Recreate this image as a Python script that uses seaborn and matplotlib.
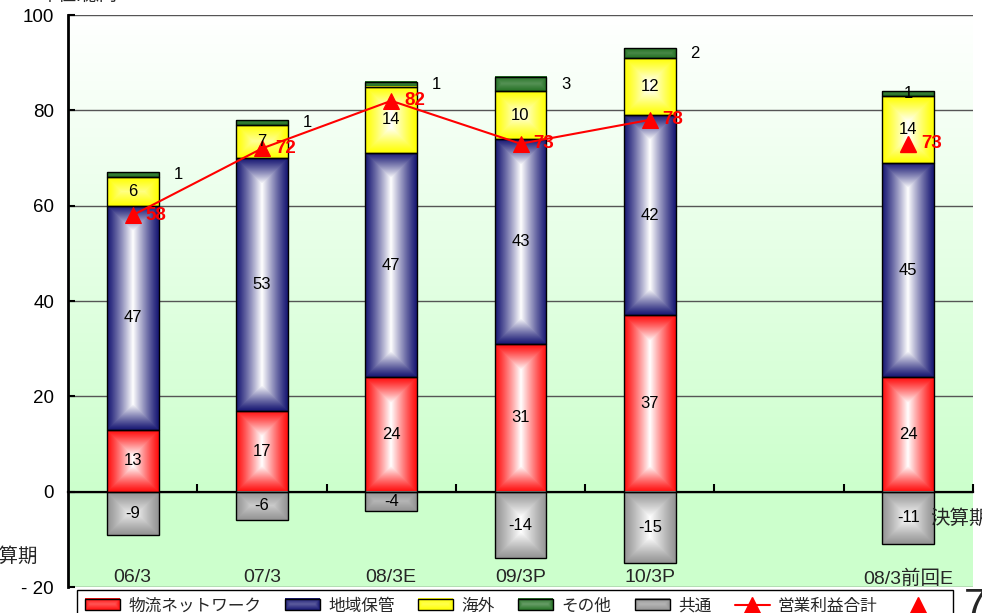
import numpy as np
import matplotlib
matplotlib.use("Agg")
import matplotlib.pyplot as plt
import seaborn as sns
from matplotlib.patches import Patch, Rectangle
from matplotlib.lines import Line2D
from matplotlib.legend_handler import HandlerBase
from matplotlib.image import BboxImage
from matplotlib.transforms import Bbox, TransformedBbox

# ---- data (億円) ----
periods = ["06/3", "07/3", "08/3E", "09/3P", "10/3P", "", "08/3前回E"]
logistics = [13, 17, 24, 31, 37, np.nan, 24]      # 物流ネットワーク
regional = [47, 53, 47, 43, 42, np.nan, 45]       # 地域保管
overseas = [6, 7, 14, 10, 12, np.nan, 14]         # 海外
others = [1, 1, 1, 3, 2, np.nan, 1]               # その他
common = [-9, -6, -4, -14, -15, np.nan, -11]      # 共通
totals = [58, 72, 82, 73, 78, np.nan, 73]         # 営業利益合計
series_names = ["物流ネットワーク", "地域保管", "海外", "その他", "共通", "営業利益合計"]
y_ticks = [-20, 0, 20, 40, 60, 80, 100]
y_tick_labels = ["- 20", "0", "20", "40", "60", "80", "100"]

sns.set_theme(style="white")
FONT = ["Liberation Sans", "Noto Sans CJK JP", "DejaVu Sans"]
plt.rcParams["font.family"] = FONT
plt.rcParams["axes.unicode_minus"] = False

edge_colors = {
    "物流ネットワーク": (1.0, 0.05, 0.05),
    "地域保管": (0.09, 0.09, 0.45),
    "海外": (1.0, 1.0, 0.0),
    "その他": (0.15, 0.45, 0.15),
    "共通": (0.58, 0.58, 0.58),
}


def box_gradient(color, wpx, hpx, power=1.15):
    """Rectangular 'from centre' gradient: colour at the edges, white inside."""
    nx = max(int(round(wpx)), 2)
    ny = max(int(round(hpx)), 2)
    xs = np.arange(nx) + 0.5
    ys = np.arange(ny) + 0.5
    dx = np.minimum(xs, nx - xs)[None, :]
    dy = np.minimum(ys, ny - ys)[:, None]
    d = np.minimum(dx, dy)
    t = np.clip(d / (nx / 2.0), 0, 1) ** power
    c = np.array(color)
    return c[None, None, :] * (1 - t[..., None]) + t[..., None]


fig = plt.figure(figsize=(9.82, 6.13), dpi=100)
fig.patch.set_facecolor("white")
ax = fig.add_axes([68 / 982, 1 - 587 / 613, (973 - 68) / 982, (587 - 15) / 613])

pos = np.arange(len(periods))
xlim = (-0.5, len(periods) - 0.5)
ax.set_facecolor("#ccffcc")

# plot-area gradient above the zero line
grad = np.linspace(0, 1, 256)[:, None]
top_c = np.array([1.0, 1.0, 1.0])
bot_c = np.array([0.80, 1.0, 0.80])
bg = top_c[None, None, :] * (1 - grad[..., None]) + bot_c[None, None, :] * grad[..., None]
bg = np.repeat(bg, 2, axis=1)
ax.imshow(bg, extent=(xlim[0], xlim[1], 0, 100), aspect="auto", origin="upper",
          zorder=0, interpolation="bilinear")
ax.set_xlim(*xlim)
ax.set_ylim(-20, 100)

# stacked bars
width = 0.4
layers = [("物流ネットワーク", logistics), ("地域保管", regional),
          ("海外", overseas), ("その他", others)]
valid = ~np.isnan(np.array(totals, dtype=float))
bottom = np.zeros(len(periods))
bar_groups = []
for name, vals in layers:
    v = np.array(vals, dtype=float)
    bars = ax.bar(pos[valid], v[valid], width=width, bottom=bottom[valid],
                  facecolor="none", edgecolor="black", linewidth=1, zorder=4)
    bar_groups.append((name, bars, v, bottom.copy()))
    bottom = bottom + np.nan_to_num(v)
cv = np.array(common, dtype=float)
bars = ax.bar(pos[valid], cv[valid], width=width, facecolor="none",
              edgecolor="black", linewidth=1, zorder=4)
bar_groups.append(("共通", bars, cv, np.zeros(len(periods))))

# gradient fills inside each bar
for name, bars, v, b in bar_groups:
    for rect in bars:
        x0, y0 = rect.get_x(), rect.get_y()
        w, h = rect.get_width(), rect.get_height()
        p0 = ax.transData.transform((x0, min(y0, y0 + h)))
        p1 = ax.transData.transform((x0 + w, max(y0, y0 + h)))
        img = box_gradient(edge_colors[name], p1[0] - p0[0], p1[1] - p0[1])
        ax.imshow(img, extent=(x0, x0 + w, min(y0, y0 + h), max(y0, y0 + h)),
                  aspect="auto", zorder=3, interpolation="bilinear")

# segment value labels
lab_kw = dict(fontsize=12, color="black", ha="center", va="center", zorder=6)
for name, bars, v, b in bar_groups:
    for i in pos[valid]:
        val = v[i]
        yc = b[i] + val / 2.0
        if name == "その他" and i != len(periods) - 1:
            ax.text(i + 0.35, yc, f"{int(val)}", **lab_kw)
        else:
            ax.text(i, yc, f"{int(val)}", **lab_kw)

# operating profit total: line for the track record/plan, marker for the previous estimate
line_x = pos[:5]
line_y = np.array(totals[:5], dtype=float)
sns.lineplot(x=line_x, y=line_y, ax=ax, color="red", linewidth=1.5, marker="^",
             markersize=11, markeredgecolor="red", zorder=5, legend=False)
ax.plot([pos[-1]], [totals[-1]], ls="none", marker="^", color="red",
        markersize=11, zorder=5)
for i in pos[valid]:
    ax.text(i + 0.1, totals[i], f"{int(totals[i])}", color="red",
            fontsize=13.5, fontweight="bold", ha="left", va="center", zorder=6)

# axes styling
ax.set_yticks(y_ticks)
ax.set_yticklabels(y_tick_labels, fontsize=13.5)
ax.yaxis.grid(True, color="#555555", linewidth=1)
ax.xaxis.grid(False)
ax.set_axisbelow(True)
ax.tick_params(axis="y", direction="in", length=5, width=1.5, pad=10,
               left=True, colors="black")
for s in ["top", "right"]:
    ax.spines[s].set_visible(False)
ax.spines["left"].set_color("black")
ax.spines["left"].set_linewidth(2)
ax.spines["bottom"].set_position(("data", 0))
ax.spines["bottom"].set_color("black")
ax.spines["bottom"].set_linewidth(1.6)
ax.set_xticks(np.arange(0.5, len(periods), 1.0))
ax.set_xticklabels([])
ax.set_xticks(pos, minor=True)
ax.set_xticklabels(periods, minor=True, fontsize=14)
ax.tick_params(axis="x", which="major", direction="in", length=6, width=1.5,
               bottom=True, colors="black")
ax.tick_params(axis="x", which="minor", length=0, pad=56, bottom=True)
ax.set_xlabel("")
ax.set_ylabel("")

# figure texts
fig.text(40 / 982, 1 - 5 / 613, "単位:億円", fontsize=13, ha="left", va="bottom")
fig.text(38 / 982, 1 - 557 / 613, "決算期", fontsize=14, ha="right", va="center")
fig.text(930 / 982, 1 - 519 / 613, "決算期", fontsize=14, ha="left", va="center")
fig.text(964 / 982, 1 - 618 / 613, "7", fontsize=30, ha="left", va="baseline")


class GradientHandler(HandlerBase):
    def __init__(self, color):
        super().__init__()
        self.color = color

    def create_artists(self, legend, orig_handle, xdescent, ydescent, width,
                       height, fontsize, trans):
        bb = TransformedBbox(Bbox.from_bounds(-xdescent, -ydescent, width, height), trans)
        im = BboxImage(bb, interpolation="bilinear")
        im.set_data(box_gradient(self.color, 33, 10, power=1.0))
        frame = Rectangle((-xdescent, -ydescent), width, height, fill=False,
                          edgecolor="black", linewidth=1, transform=trans)
        return [im, frame]


handles, labels, hmap = [], [], {}
for name in series_names[:5]:
    h = Patch(label=name)
    handles.append(h)
    labels.append(name)
    hmap[h] = GradientHandler(edge_colors[name])
handles.append(Line2D([], [], color="red", lw=1.5, marker="^", markersize=11))
labels.append(series_names[5])
handles.append(Line2D([], [], ls="none", color="red", marker="^", markersize=11))
labels.append("")
leg = fig.legend(handles, labels, handler_map=hmap, loc="upper left",
                 bbox_to_anchor=(77 / 982, 1 - 590 / 613), ncol=7, fontsize=12,
                 frameon=True, fancybox=False, edgecolor="black", framealpha=1,
                 borderaxespad=0, handlelength=2.1, handleheight=0.65,
                 handletextpad=0.5, columnspacing=1.4, borderpad=0.5,
                 numpoints=1)
leg.get_frame().set_linewidth(1)

fig.savefig("out.png", dpi=100)
